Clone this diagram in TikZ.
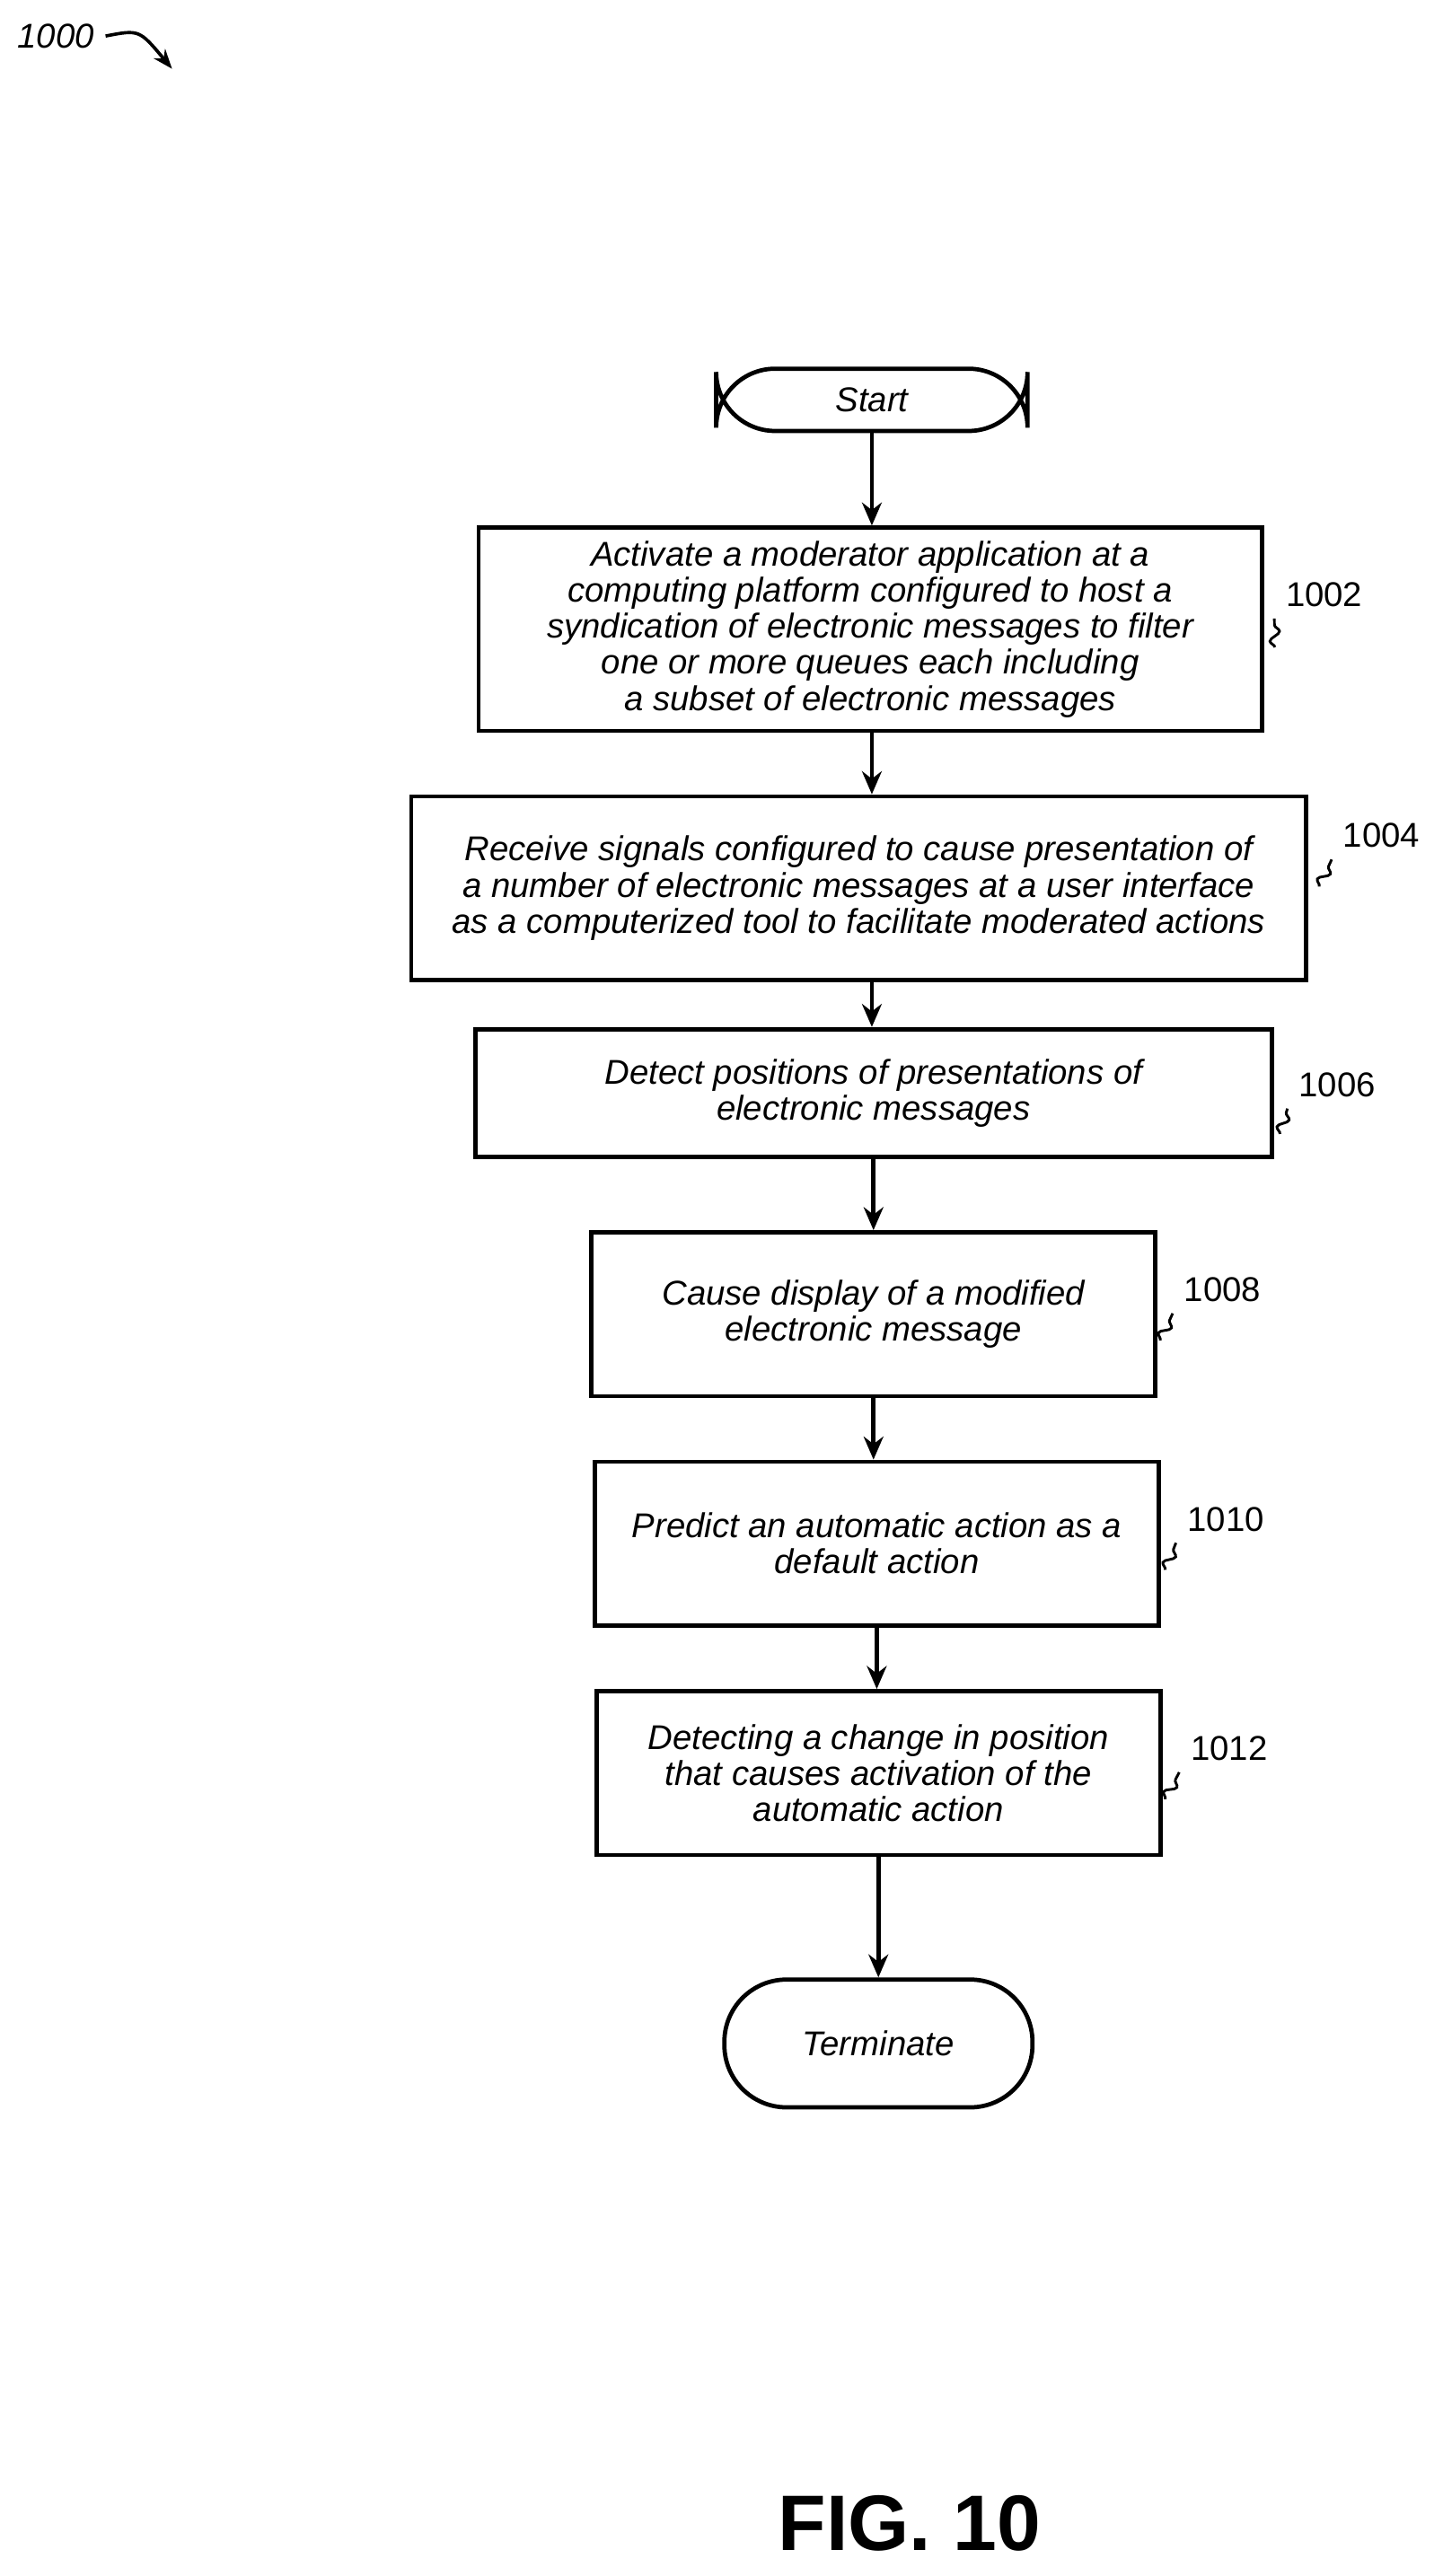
\documentclass[tikz,border=0pt]{standalone}
\usepackage{fontspec}
\setmainfont{Liberation Sans}
\usetikzlibrary{arrows.meta, decorations.pathmorphing}

\tikzset{
  box/.style={draw, line width=1.3pt, align=center, font=\itshape\fontsize{10.5}{11}\selectfont, inner sep=2pt},
  term/.style={box, rounded corners=18pt},
  flow/.style={-{Stealth[length=7pt,width=6pt]}, line width=1.3pt},
  tag/.style={font=\fontsize{10.5}{11}\selectfont},
  wiggle/.style={line width=0.8pt, decorate, decoration={snake, amplitude=1.5pt, segment length=6pt}}
}

\begin{document}
\begin{tikzpicture}[x=0.5pt,y=-0.5pt]
\useasboundingbox (0,0) rectangle (880,1572);

\node[tag, font=\itshape\fontsize{10.5}{11}\selectfont] (fig) at (34,22) {1000};
\coordinate (figtip) at (105,42);
\draw[-{Stealth[length=6pt]}, line width=1pt] (fig.east) .. controls (85,18) .. (figtip);

\node[term, minimum width=95pt, minimum height=19pt] (start) at (532,244) {Start};
\node[box, minimum width=239pt, minimum height=62pt] (s1002) at (531,384)
  {Activate a moderator application at a\\computing platform configured to host a\\syndication of electronic messages to filter\\one or more queues each including\\a subset of electronic messages};
\node[box, minimum width=273pt, minimum height=56pt] (s1004) at (524,542)
  {Receive signals configured to cause presentation of\\a number of electronic messages at a user interface\\as a computerized tool to facilitate moderated actions};
\node[box, minimum width=243pt, minimum height=39pt] (s1006) at (533,667)
  {Detect positions of presentations of\\electronic messages};
\node[box, minimum width=172pt, minimum height=50pt] (s1008) at (533,802)
  {Cause display of a modified\\electronic message};
\node[box, minimum width=172pt, minimum height=50pt] (s1010) at (535,942)
  {Predict an automatic action as a\\default action};
\node[box, minimum width=172pt, minimum height=50pt] (s1012) at (536,1082)
  {Detecting a change in position\\that causes activation of the\\automatic action};
\node[term, minimum width=94pt, minimum height=39pt, rounded corners=19pt] (stop) at (536,1247) {Terminate};

\draw[flow] (start) -- (start |- s1002.north);
\draw[flow] (s1002.south -| start) -- (start |- s1004.north);
\draw[flow] (s1004.south -| start) -- (start |- s1006.north);
\draw[flow] (s1006) -- (s1006 |- s1008.north);
\draw[flow] (s1008) -- (s1008 |- s1010.north);
\draw[flow] (s1010) -- (s1010 |- s1012.north);
\draw[flow] (s1012) -- (s1012 |- stop.north);

% reference numerals
\node[tag] (n1002) at (808,363) {1002};
\node[tag] (n1004) at (843,510) {1004};
\node[tag] (n1006) at (816,662) {1006};
\node[tag] (n1008) at (746,787) {1008};
\node[tag] (n1010) at (748,927) {1010};
\node[tag] (n1012) at (750,1067) {1012};
\coordinate (w1002) at (778,395);
\coordinate (w1004) at (805,541);
\coordinate (w1006) at (781,692);
\coordinate (w1008) at (708,818);
\coordinate (w1010) at (711,958);
\coordinate (w1012) at (711,1098);
\foreach \n in {1002,1004,1006,1008,1010,1012}
  \draw[wiggle] (w\n) -- (n\n.south west);

\node[font=\bfseries\fontsize{24}{26}\selectfont] (title) at (555,1540) {FIG. 10};
\end{tikzpicture}
\end{document}
